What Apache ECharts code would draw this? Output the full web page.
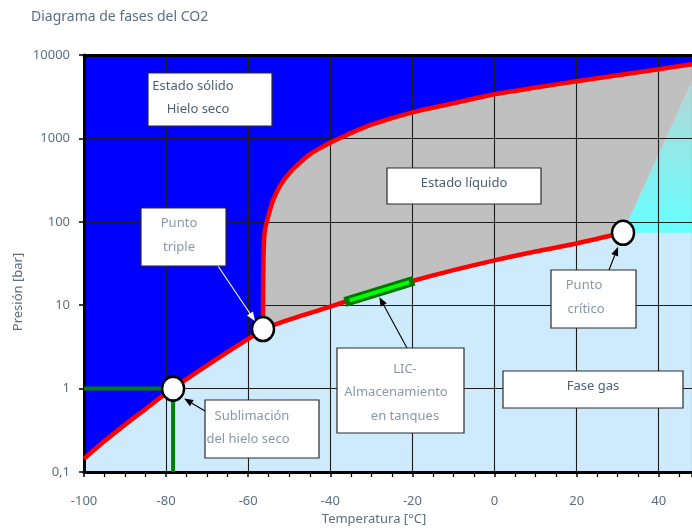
<!DOCTYPE html>
<html><head><meta charset="utf-8">
<script src="https://cdn.jsdelivr.net/npm/echarts@6.0.0/dist/echarts.min.js"></script>
<style>html,body{margin:0;padding:0;background:#fff}#c{width:692px;height:529px}</style>
</head><body><div id="c"></div>
<script>
// ---- data ----
const xTickValues = [-100, -80, -60, -40, -20, 0, 20, 40];
const yTickLabels = ['0,1', '1', '10', '100', '1000', '10000'];
const xMin = -100, xMax = 48.1, yMin = 0.1, yMax = 10000;

const sublimationT = [-100, -95, -90, -85, -80, -75, -70, -65, -60, -56.4];
const sublimationP = [0.144, 0.235, 0.37, 0.57, 0.88, 1.3, 1.9, 2.75, 3.95, 5.18];

const meltingT = [-56.4, -56.35, -56.2, -55.9, -55.2, -54.0, -52.3, -49.9, -47.4, -45, -42.6, -40, -36, -30, -20, -10, 0, 10, 20, 30, 40, 48.1];
const meltingP = [5.18, 20, 51, 81, 112, 178, 268, 388, 512, 644, 760, 890, 1100, 1460, 2050, 2640, 3380, 4070, 4840, 5720, 6760, 7750];

const vaporT = [-56.4, -50, -40, -30, -20, -10, 0, 10, 20, 31.3];
const vaporP = [5.18, 6.7, 9.6, 14, 19.5, 26.3, 34.5, 44, 55, 73.8];

const triplePoint = [-56.4, 5.18];
const criticalPoint = [31.3, 73.8];
const sublimationPoint = [-78.3, 1];
const supercriticalTopP = 4800;      // where the supercritical wedge meets the right edge

const licT = [-35.3, -20.8];
const licP = [11.4, 18.9];
const greenHT = [-100, -78.3], greenHP = [1, 1];
const greenVT = [-78.3, -78.3], greenVP = [1, 0.1];

// ---- helpers ----
const zip = (a, b) => a.map((v, i) => [v, b[i]]);
const subPts = zip(sublimationT, sublimationP);
const meltPts = zip(meltingT, meltingP);
const vapPts = zip(vaporT, vaporP);

const regions = [
  { fill: '#0000ff', pts: [[xMin, yMax]].concat(subPts, meltPts.slice(1), [[xMax, yMax]]) },
  { fill: '#c0c0c0', pts: meltPts.concat([[xMax, supercriticalTopP], criticalPoint], vapPts.slice(0, -1).reverse()) },
  { fill: new echarts.graphic.LinearGradient(0, 0, 0, 1, [{offset: 0, color: '#b6d6d6'}, {offset: 1, color: '#66ffff'}]),
    pts: [criticalPoint, [xMax, supercriticalTopP], [xMax, criticalPoint[1]]] }
];

const txt = '#5b6f83', txtLight = '#8898aa', txtDark = '#4c6074';
const FONT = '"Noto Sans", sans-serif';

const chart = echarts.init(document.getElementById('c'), null, {renderer: 'canvas'});

const redLine = (pts) => ({
  type: 'line', data: pts, showSymbol: false, symbol: 'none', z: 5, silent: true, smooth: 0.3,
  lineStyle: {color: '#ff0000', width: 4.5}, animation: false
});

const option = {
  animation: false,
  backgroundColor: '#ffffff',
  title: {text: 'Diagrama de fases del CO2', left: 31, top: 10, padding: 0,
    textStyle: {color: txt, fontSize: 14, fontWeight: 'normal', fontFamily: FONT}},
  grid: {left: 84, right: 0, top: 55, bottom: 57, containLabel: false, outerBoundsMode: 'none',
    show: true, backgroundColor: '#cdebfd', borderWidth: 0},
  xAxis: [{
    type: 'value', min: xMin, max: xMax, interval: 20, z: 3,
    axisLine: {show: true, onZero: false, lineStyle: {color: '#000', width: 3}},
    axisTick: {show: true, length: 5, lineStyle: {color: '#000', width: 1.5}},
    minorTick: {show: true, splitNumber: 4, length: 5, lineStyle: {color: '#000', width: 1.2}},
    splitLine: {show: true, lineStyle: {color: '#1c1c1c', width: 1.1}},
    minorSplitLine: {show: false},
    axisLabel: {color: txt, fontSize: 13, fontFamily: FONT, margin: 23, showMaxLabel: false,
      formatter: v => xTickValues.indexOf(v) >= 0 ? String(v) : ''}
  }, {
    type: 'value', min: xMin, max: xMax, position: 'top', z: 3,
    axisLine: {show: true, onZero: false, lineStyle: {color: '#000', width: 3}},
    axisTick: {show: false}, axisLabel: {show: false}, splitLine: {show: false}
  }],
  yAxis: {
    type: 'log', logBase: 10, min: yMin, max: yMax, z: 3,
    axisLine: {show: true, onZero: false, lineStyle: {color: '#000', width: 3}},
    axisTick: {show: true, length: 5, lineStyle: {color: '#000', width: 1.5}},
    minorTick: {show: false},
    splitLine: {show: true, lineStyle: {color: '#1c1c1c', width: 1.1}},
    axisLabel: {color: txt, fontSize: 13, fontFamily: FONT, margin: 14,
      formatter: v => yTickLabels[Math.round(Math.log10(v)) + 1] || ''}
  },
  series: [
    {
      type: 'custom', z: 1, silent: true, clip: true,
      data: regions.map((r, i) => [r.pts[0][0], r.pts[0][1], i]),
      encode: {x: 0, y: 1},
      renderItem: (params, api) => {
        const reg = regions[api.value(2)];
        return {type: 'polygon', shape: {points: reg.pts.map(p => api.coord(p))},
          style: {fill: reg.fill, stroke: null}};
      }
    },
    {type: 'line', data: zip(greenHT, greenHP), showSymbol: false, symbol: 'none', z: 4, silent: true,
      lineStyle: {color: '#008000', width: 4}},
    {type: 'line', data: zip(greenVT, greenVP), showSymbol: false, symbol: 'none', z: 4, silent: true,
      lineStyle: {color: '#008000', width: 4}},
    redLine(subPts), redLine(meltPts), redLine(vapPts),
    {type: 'line', data: zip(licT, licP), showSymbol: false, symbol: 'none', z: 6, silent: true,
      lineStyle: {color: '#007800', width: 10, cap: 'square'}},
    {type: 'line', data: zip(licT, licP), showSymbol: false, symbol: 'none', z: 7, silent: true,
      lineStyle: {color: '#00ff00', width: 4, cap: 'butt'}},
    {type: 'scatter', data: [triplePoint, criticalPoint, sublimationPoint], z: 8, silent: true,
      symbol: 'circle', symbolSize: [22, 24],
      itemStyle: {color: '#ffffff', borderColor: '#000', borderWidth: 2.5, opacity: 1}}
  ]
};
chart.setOption(option);

// ---- annotations ----
function box(x, y, w, h) {
  return {type: 'rect', z: 20, shape: {x, y, width: w, height: h},
    style: {fill: '#ffffff', stroke: '#2a2a2a', lineWidth: 1.2}};
}
function label(text, x, y, color) {
  return {type: 'text', z: 21, x, y,
    style: {text, fill: color, font: '13px ' + FONT, textAlign: 'center', textVerticalAlign: 'middle'}};
}
function arrow(x1, y1, x2, y2, color) {
  const ang = Math.atan2(y2 - y1, x2 - x1), L = 9, W = 3.6;
  const bx = x2 - L * Math.cos(ang), by = y2 - L * Math.sin(ang);
  const nx = -Math.sin(ang) * W, ny = Math.cos(ang) * W;
  return [
    {type: 'line', z: 19, shape: {x1, y1, x2: bx, y2: by}, style: {stroke: color, lineWidth: 1.1}},
    {type: 'polygon', z: 19, shape: {points: [[x2, y2], [bx + nx, by + ny], [bx - nx, by - ny]]},
      style: {fill: color}}
  ];
}
const px = p => chart.convertToPixel({xAxisIndex: 0, yAxisIndex: 0}, p);
const tp = px(triplePoint), cp = px(criticalPoint), sp = px(sublimationPoint);
const licMid = px([(licT[0] + licT[1]) / 2, (licP[0] + licP[1]) / 2]);

const els = [];
els.push(box(148, 73, 124, 53), label('Estado sólido', 193, 86, txtDark), label('Hielo seco', 198, 109, txtDark));
els.push(box(141, 208, 85, 58), label('Punto', 179, 223, txtLight), label('triple', 179, 247, txtLight));
els.push(box(387, 168, 154, 36), label('Estado líquido', 464, 183, txtDark));
els.push(box(551, 270, 85, 58), label('Punto', 584, 285, txtLight), label('crítico', 586, 309, txtLight));
els.push(box(337, 348, 127, 85), label('LIC-', 405, 369, txtLight), label('Almacenamiento', 396, 392, txtLight), label('en tanques', 405, 416, txtLight));
els.push(box(503, 371, 180, 37), label('Fase gas', 593, 386, txtDark));
els.push(box(205, 400, 114, 58), label('Sublimación', 252, 416, txtLight), label('del hielo seco', 248, 439, txtLight));
els.push(...arrow(218, 266, tp[0] - 8, tp[1] - 8, '#ffffff'));
els.push(...arrow(609, 270, cp[0] - 5, cp[1] + 14, '#000000'));
els.push(...arrow(407, 348, licMid[0], licMid[1] + 7, '#000000'));
els.push(...arrow(205, 411, sp[0] + 11, sp[1] + 10, '#000000'));
els.push({type: 'text', z: 21, x: 18, y: 292, rotation: Math.PI / 2,
  style: {text: 'Presión [bar]', fill: txt, font: '13px ' + FONT, textAlign: 'center', textVerticalAlign: 'middle'}});
els.push({type: 'text', z: 21, x: 374, y: 519,
  style: {text: 'Temperatura [°C]', fill: txt, font: '13px ' + FONT, textAlign: 'center', textVerticalAlign: 'middle'}});
chart.setOption({graphic: {elements: els}});
</script>
</body></html>
